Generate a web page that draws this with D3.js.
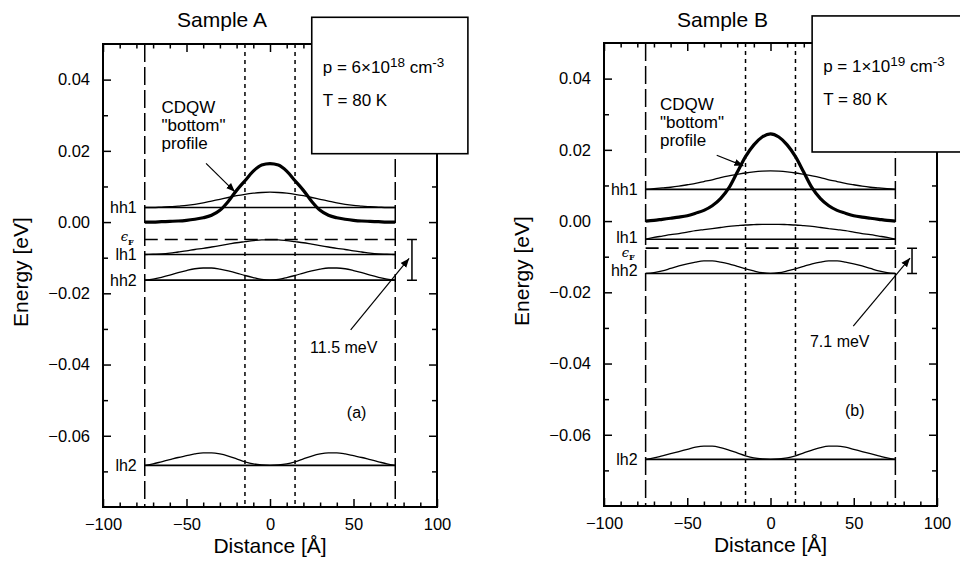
<!DOCTYPE html>
<html>
<head>
<meta charset="utf-8">
<script src="https://cdn.jsdelivr.net/npm/d3@7"></script>
<style>
    body { margin: 0; background: #fff; }
    svg { display: block; font-family: "Liberation Sans", Arial, Helvetica, sans-serif; }
</style>
</head>
<body>
<svg id="chart" width="960" height="561"></svg>
<script>
// distance grid in Angstrom, shared by every curve
let distance = [-75,-70,-65,-60,-55,-50,-45,-40,-35,-30,-25,-20,-15,-10,-5,0,5,10,15,20,25,30,35,40,45,50,55,60,65,70,75]

let sampleTitles = ['Sample A', 'Sample B']
let panelTags = ['(a)', '(b)']
let densityMantissa = ['6', '1']
let densityExponent = ['18', '19']
let temperatures = ['80 K', '80 K']
let gapLabels = ['11.5 meV', '7.1 meV']

let levelNames = ['hh1', 'lh1', 'hh2', 'lh2']
let levelsA = [0.0041, -0.0091, -0.0163, -0.0683]
let levelsB = [0.0089, -0.0051, -0.0147, -0.0669]
let fermiLevels = [-0.0049, -0.0076]

let wellEdges = [-75, 75]
let barrierEdges = [-15, 15]

// "bottom" profile of the CDQW (eV)
let profileA = [0,0,0.0001,0.0002,0.0003,0.0005,0.0008,0.0012,0.0019,0.0033,0.0058,0.0089,0.0116,0.0143,0.0160,0.0164,0.0160,0.0143,0.0116,0.0089,0.0058,0.0033,0.0019,0.0012,0.0008,0.0005,0.0003,0.0002,0.0001,0,0]
let profileB = [0,0.0002,0.0005,0.0008,0.0011,0.0015,0.0022,0.0030,0.0043,0.0063,0.0093,0.0137,0.0181,0.0214,0.0236,0.0245,0.0236,0.0214,0.0181,0.0137,0.0093,0.0063,0.0043,0.0030,0.0022,0.0015,0.0011,0.0008,0.0005,0.0002,0]

// wave functions drawn on top of their levels (eV)
let hh1WaveA = [0.0041,0.0041,0.0042,0.0043,0.0045,0.0047,0.0050,0.0054,0.0059,0.0064,0.0069,0.0074,0.0078,0.0081,0.0083,0.0084,0.0083,0.0081,0.0078,0.0074,0.0069,0.0064,0.0059,0.0054,0.0050,0.0047,0.0045,0.0043,0.0042,0.0041,0.0041]
let lh1WaveA = [-0.0091,-0.0090,-0.0089,-0.0087,-0.0084,-0.0081,-0.0077,-0.0074,-0.0070,-0.0066,-0.0062,-0.0058,-0.0055,-0.0052,-0.0050,-0.0050,-0.0050,-0.0052,-0.0055,-0.0058,-0.0062,-0.0066,-0.0070,-0.0074,-0.0077,-0.0081,-0.0084,-0.0087,-0.0089,-0.0090,-0.0091]
let hh2WaveA = [-0.0163,-0.0160,-0.0155,-0.0149,-0.0142,-0.0136,-0.0131,-0.0129,-0.0129,-0.0132,-0.0137,-0.0143,-0.0150,-0.0156,-0.0161,-0.0163,-0.0161,-0.0156,-0.0150,-0.0143,-0.0137,-0.0132,-0.0129,-0.0129,-0.0131,-0.0136,-0.0142,-0.0149,-0.0155,-0.0160,-0.0163]
let lh2WaveA = [-0.0683,-0.0679,-0.0673,-0.0667,-0.0661,-0.0656,-0.0651,-0.0648,-0.0648,-0.0651,-0.0657,-0.0665,-0.0673,-0.0679,-0.0682,-0.0683,-0.0682,-0.0679,-0.0673,-0.0665,-0.0657,-0.0651,-0.0648,-0.0648,-0.0651,-0.0656,-0.0661,-0.0667,-0.0673,-0.0679,-0.0683]

let hh1WaveB = [0.0089,0.0091,0.0093,0.0095,0.0098,0.0102,0.0106,0.0111,0.0116,0.0122,0.0127,0.0131,0.0135,0.0138,0.0140,0.0141,0.0140,0.0138,0.0135,0.0131,0.0127,0.0122,0.0116,0.0111,0.0106,0.0102,0.0098,0.0095,0.0093,0.0091,0.0089]
let lh1WaveB = [-0.0051,-0.0046,-0.0042,-0.0038,-0.0035,-0.0031,-0.0027,-0.0024,-0.0021,-0.0018,-0.0015,-0.0013,-0.0011,-0.0010,-0.0009,-0.0009,-0.0009,-0.0010,-0.0011,-0.0013,-0.0015,-0.0018,-0.0021,-0.0024,-0.0027,-0.0031,-0.0035,-0.0038,-0.0042,-0.0046,-0.0051]
let hh2WaveB = [-0.0147,-0.0145,-0.0140,-0.0133,-0.0126,-0.0120,-0.0115,-0.0112,-0.0112,-0.0115,-0.0120,-0.0127,-0.0134,-0.0140,-0.0145,-0.0147,-0.0145,-0.0140,-0.0134,-0.0127,-0.0120,-0.0115,-0.0112,-0.0112,-0.0115,-0.0120,-0.0126,-0.0133,-0.0140,-0.0145,-0.0147]
let lh2WaveB = [-0.0669,-0.0665,-0.0659,-0.0653,-0.0647,-0.0641,-0.0635,-0.0632,-0.0632,-0.0636,-0.0643,-0.0651,-0.0659,-0.0665,-0.0668,-0.0669,-0.0668,-0.0665,-0.0659,-0.0651,-0.0643,-0.0636,-0.0632,-0.0632,-0.0635,-0.0641,-0.0647,-0.0653,-0.0659,-0.0665,-0.0669]

let xMajor = [-100, -50, 0, 50, 100]
let xTickLabels = ['\u2212100', '\u221250', '0', '50', '100']
let xMinor = [-90,-80,-70,-60,-40,-30,-20,-10,10,20,30,40,60,70,80,90]
let yMajor = [-0.06, -0.04, -0.02, 0, 0.02, 0.04]
let yTickLabels = ['\u22120.06', '\u22120.04', '\u22120.02', '0.00', '0.02', '0.04']
let yMinor = [-0.07, -0.05, -0.03, -0.01, 0.01, 0.03]

let panels = [
    { left: 103, right: 437, top: 44, bottom: 507,
      levels: levelsA, waves: [hh1WaveA, lh1WaveA, hh2WaveA, lh2WaveA], profile: profileA,
      labelDy: [0, 0, 0, 0], fermiDy: 1.5,
      cdqw: [-65, 0.0306], cdqwArrow: [[-38.3, 0.0165], [-21, 0.0085]],
      gapText: [24, -0.0367], gapArrow: [[48.3, -0.0303], [83.3, -0.0102]], tag: [46, -0.0551],
      box: [25, 118.5, 0.0575, 0.0192] },
    { left: 604, right: 937, top: 43, bottom: 506,
      levels: levelsB, waves: [hh1WaveB, lh1WaveB, hh2WaveB, lh2WaveB], profile: profileB,
      labelDy: [0, -2.5, -3, 0], fermiDy: 8.5,
      cdqw: [-66.4, 0.0312], cdqwArrow: [[-32.3, 0.0185], [-16.3, 0.0155]],
      gapText: [23.7, -0.0353], gapArrow: [[49.7, -0.0295], [83.8, -0.0104]], tag: [44.7, -0.0547],
      box: [25, 118.5, 0.0576, 0.0194] }
]

let svg = d3.select('#chart')

svg.append('defs').append('marker')
   .attr('id', 'arrow')
   .attr('viewBox', '0 0 10 10')
   .attr('refX', 10).attr('refY', 5)
   .attr('markerWidth', 9).attr('markerHeight', 9)
   .attr('markerUnits', 'userSpaceOnUse')
   .attr('orient', 'auto')
   .append('path')
   .attr('d', 'M0,1 L10,5 L0,9 Z')
   .attr('fill', '#000')

let drawPanel = (p, k) => {

    let x = d3.scaleLinear().domain([-100, 100]).range([p.left, p.right])
    let y = d3.scaleLinear().domain([-0.08, 0.05]).range([p.bottom, p.top])

    let g = svg.append('g')

    // axes, ticks pointing inward on all four sides
    let addAxis = (axis, tx, ty) => {
        let a = g.append('g')
                 .attr('transform', 'translate(' + tx + ',' + ty + ')')
                 .call(axis.tickSizeOuter(0))
        a.select('.domain').remove()
        a.selectAll('line').attr('stroke', '#000').attr('stroke-width', 1.5)
        a.selectAll('text').attr('font-size', '16.5px').attr('fill', '#000')
                 .attr('font-family', '"Liberation Sans", Arial, sans-serif')
    }
    let none = () => ''

    addAxis(d3.axisBottom(x).tickValues(xMajor).tickFormat((d, i) => xTickLabels[i]).tickSizeInner(-8).tickPadding(11), 0, p.bottom)
    addAxis(d3.axisBottom(x).tickValues(xMinor).tickFormat(none).tickSizeInner(-4.5), 0, p.bottom)
    addAxis(d3.axisTop(x).tickValues(xMajor).tickFormat(none).tickSizeInner(-8), 0, p.top)
    addAxis(d3.axisTop(x).tickValues(xMinor).tickFormat(none).tickSizeInner(-4.5), 0, p.top)
    addAxis(d3.axisLeft(y).tickValues(yMajor).tickFormat((d, i) => yTickLabels[i]).tickSizeInner(-8).tickPadding(13), p.left, 0)
    addAxis(d3.axisLeft(y).tickValues(yMinor).tickFormat(none).tickSizeInner(-5), p.left, 0)
    addAxis(d3.axisRight(y).tickValues(yMajor).tickFormat(none).tickSizeInner(-8), p.right, 0)
    addAxis(d3.axisRight(y).tickValues(yMinor).tickFormat(none).tickSizeInner(-5), p.right, 0)

    g.append('rect')
     .attr('x', p.left).attr('y', p.top)
     .attr('width', p.right - p.left).attr('height', p.bottom - p.top)
     .attr('fill', 'none').attr('stroke', '#000').attr('stroke-width', 2)

    // well edges (long dash) and barrier edges (short dash)
    g.selectAll('.well')
     .data(wellEdges).enter().append('line')
     .attr('x1', d => x(d)).attr('x2', d => x(d))
     .attr('y1', p.top).attr('y2', p.bottom)
     .attr('stroke', '#000').attr('stroke-width', 1.5).attr('stroke-dasharray', '18,5')

    g.selectAll('.barrier')
     .data(barrierEdges).enter().append('line')
     .attr('x1', d => x(d)).attr('x2', d => x(d))
     .attr('y1', p.top).attr('y2', p.bottom)
     .attr('stroke', '#000').attr('stroke-width', 1.5).attr('stroke-dasharray', '4,4')

    let curve = d3.line()
                  .x((d, i) => x(distance[i]))
                  .y(d => y(d))
                  .curve(d3.curveMonotoneX)

    // subband levels
    g.selectAll('.level')
     .data(p.levels).enter().append('line')
     .attr('x1', x(wellEdges[0])).attr('x2', x(wellEdges[1]))
     .attr('y1', d => y(d)).attr('y2', d => y(d))
     .attr('stroke', '#000').attr('stroke-width', 1.6)

    g.selectAll('.wave')
     .data(p.waves).enter().append('path')
     .attr('d', d => curve(d))
     .attr('fill', 'none').attr('stroke', '#000').attr('stroke-width', 1.3)

    g.append('path')
     .attr('d', curve(p.profile))
     .attr('fill', 'none').attr('stroke', '#000').attr('stroke-width', 3.2)

    g.append('line')
     .attr('x1', x(wellEdges[0])).attr('x2', x(wellEdges[1]))
     .attr('y1', y(fermiLevels[k])).attr('y2', y(fermiLevels[k]))
     .attr('stroke', '#000').attr('stroke-width', 1.6).attr('stroke-dasharray', '13,7')

    // level names left of the well
    g.selectAll('.lname')
     .data(levelNames).enter().append('text')
     .attr('x', x(wellEdges[0]) - 8)
     .attr('y', (d, i) => y(p.levels[i]) + p.labelDy[i])
     .attr('dy', '0.36em')
     .attr('text-anchor', 'end')
     .attr('font-size', '16px')
     .text(d => d)

    let ef = g.append('text')
              .attr('x', x(wellEdges[0]) - 11)
              .attr('y', y(fermiLevels[k]) + p.fermiDy)
              .attr('text-anchor', 'end')
              .attr('font-family', '"DejaVu Serif", "Liberation Serif", serif')
    ef.append('tspan').attr('font-size', '13px').attr('font-style', 'italic').text('\u03f5')
    ef.append('tspan').attr('font-size', '8px').attr('font-weight', 'bold').attr('dy', 3.5).text('F')

    // CDQW annotation
    let cd = g.append('text')
              .attr('x', x(p.cdqw[0])).attr('y', y(p.cdqw[1]))
              .attr('font-size', '17px')
    ;['CDQW', '"bottom"', 'profile'].forEach((t, i) => {
        cd.append('tspan').attr('x', x(p.cdqw[0])).attr('dy', i ? 18 : 0).text(t)
    })
    g.append('line')
     .attr('x1', x(p.cdqwArrow[0][0])).attr('y1', y(p.cdqwArrow[0][1]))
     .attr('x2', x(p.cdqwArrow[1][0])).attr('y2', y(p.cdqwArrow[1][1]))
     .attr('stroke', '#000').attr('stroke-width', 1.2)
     .attr('marker-end', 'url(#arrow)')

    // gap between Fermi level and hh2
    let bx = x(85)
    let yTop = y(fermiLevels[k])
    let yBot = y(p.levels[2])
    g.append('path')
     .attr('d', 'M' + (bx - 5) + ',' + yTop + 'H' + (bx + 5) + 'M' + bx + ',' + yTop + 'V' + yBot + 'M' + (bx - 5) + ',' + yBot + 'H' + (bx + 5))
     .attr('fill', 'none').attr('stroke', '#000').attr('stroke-width', 1.5)
    g.append('line')
     .attr('x1', x(p.gapArrow[0][0])).attr('y1', y(p.gapArrow[0][1]))
     .attr('x2', x(p.gapArrow[1][0])).attr('y2', y(p.gapArrow[1][1]))
     .attr('stroke', '#000').attr('stroke-width', 1.2)
     .attr('marker-end', 'url(#arrow)')
    g.append('text')
     .attr('x', x(p.gapText[0])).attr('y', y(p.gapText[1]))
     .attr('font-size', '16px')
     .text(gapLabels[k])

    g.append('text')
     .attr('x', x(p.tag[0])).attr('y', y(p.tag[1]))
     .attr('font-size', '16px')
     .text(panelTags[k])

    // axis titles
    g.append('text')
     .attr('x', x(0)).attr('y', p.bottom + 46)
     .attr('text-anchor', 'middle')
     .attr('font-size', '21px')
     .text('Distance [\u00c5]')

    g.append('text')
     .attr('transform', 'translate(' + (p.left - 75) + ',' + (y(0) + 50) + ') rotate(-90)')
     .attr('text-anchor', 'middle')
     .attr('font-size', '21px')
     .text('Energy [eV]')

    // parameter box sits on top of the frame
    g.append('rect')
     .attr('x', x(p.box[0])).attr('y', y(p.box[2]))
     .attr('width', x(p.box[1]) - x(p.box[0]))
     .attr('height', y(p.box[3]) - y(p.box[2]))
     .attr('fill', '#fff').attr('stroke', '#000').attr('stroke-width', 1.6)

    let bl = x(p.box[0]) + 11
    let bt = y(p.box[2])
    let dens = g.append('text')
                .attr('x', bl).attr('y', bt + 56)
                .attr('font-size', '17px')
    dens.append('tspan').text('p = ' + densityMantissa[k] + '\u00d710')
    dens.append('tspan').attr('font-size', '13.5px').attr('dy', -6).text(densityExponent[k])
    dens.append('tspan').attr('dy', 6).text(' cm')
    dens.append('tspan').attr('font-size', '13.5px').attr('dy', -6).text('-3')

    g.append('text')
     .attr('x', bl).attr('y', bt + 89)
     .attr('font-size', '17px')
     .text('T = ' + temperatures[k])

    g.append('text')
     .attr('x', x(0) - 48).attr('y', 27)
     .attr('text-anchor', 'middle')
     .attr('font-size', '21px')
     .text(sampleTitles[k])
}

panels.forEach((p, k) => drawPanel(p, k))
</script>
</body>
</html>
